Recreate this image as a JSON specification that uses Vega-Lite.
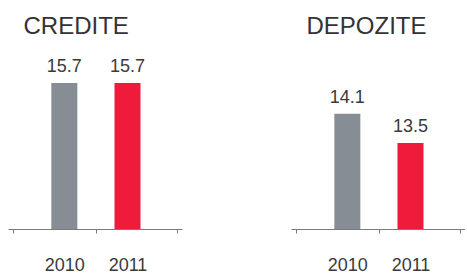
{
  "$schema": "https://vega.github.io/schema/vega-lite/v6.json",
  "autosize": {"type": "pad"},
  "padding": {"left": 8, "top": 15, "right": 0, "bottom": 0},
  "background": "white",
  "data": {
    "values": [
      {"panel": "CREDITE", "year": 2010, "value": 15.7},
      {"panel": "CREDITE", "year": 2011, "value": 15.7},
      {"panel": "DEPOZITE", "year": 2010, "value": 14.1},
      {"panel": "DEPOZITE", "year": 2011, "value": 13.5}
    ]
  },
  "spacing": 109,
  "config": {
    "view": {"stroke": null},
    "font": "Liberation Sans",
    "axis": {
      "title": null,
      "grid": false,
      "domainColor": "#7a7a7a",
      "tickColor": "#7a7a7a",
      "tickSize": 4,
      "labelFontSize": 18,
      "labelColor": "#3a3a3a",
      "labelPadding": 23,
      "labelOverlap": false,
      "labelFlush": false,
      "labelBound": false
    },
    "title": {"fontSize": 24, "fontWeight": "normal", "color": "#333333", "anchor": "start", "dx": 15.5, "offset": 11, "baseline": "alphabetic"}
  },
  "hconcat": [
    {
      "width": 174,
      "height": 179,
      "title": {"text": "CREDITE"},
      "transform": [{"filter": "datum.panel === 'CREDITE'"}],
      "encoding": {
        "x": {
          "field": "year", "type": "quantitative",
          "scale": {"domain": [2009.187, 2011.784], "nice": false, "zero": false},
          "axis": {
            "values": [2009.187, 2010, 2010.5, 2011, 2011.784],
            "labelExpr": "(datum.value == 2010 || datum.value == 2011) ? format(datum.value, 'd') : ''",
            "tickOpacity": {"condition": {"test": "datum.value == 2010 || datum.value == 2011", "value": 0}, "value": 1}
          }
        },
        "y": {"field": "value", "type": "quantitative", "scale": {"domain": [0, 19.25], "nice": false, "clamp": true}, "axis": null}
      },
      "layer": [
        {
          "mark": {"type": "bar", "width": 26},
          "encoding": {
            "color": {"field": "year", "type": "nominal", "scale": {"domain": [2010, 2011], "range": ["#878d94", "#ee1b3b"]}, "legend": null}
          }
        },
        {
          "mark": {"type": "text", "dy": -11, "fontSize": 18, "color": "#3a3a3a", "baseline": "alphabetic", "align": "center"},
          "encoding": {"text": {"field": "value", "type": "quantitative", "format": ".1f"}}
        }
      ]
    },
    {
      "width": 174,
      "height": 179,
      "title": {"text": "DEPOZITE"},
      "transform": [{"filter": "datum.panel === 'DEPOZITE'"}],
      "encoding": {
        "x": {
          "field": "year", "type": "quantitative",
          "scale": {"domain": [2009.187, 2011.784], "nice": false, "zero": false},
          "axis": {
            "values": [2009.187, 2010, 2010.5, 2011, 2011.784],
            "labelExpr": "(datum.value == 2010 || datum.value == 2011) ? format(datum.value, 'd') : ''",
            "tickOpacity": {"condition": {"test": "datum.value == 2010 || datum.value == 2011", "value": 0}, "value": 1}
          }
        },
        "y": {"field": "value", "type": "quantitative", "scale": {"domain": [11.72, 15.42], "nice": false, "zero": false, "clamp": true}, "axis": null}
      },
      "layer": [
        {
          "mark": {"type": "bar", "width": 26},
          "encoding": {
            "color": {"field": "year", "type": "nominal", "scale": {"domain": [2010, 2011], "range": ["#878d94", "#ee1b3b"]}, "legend": null}
          }
        },
        {
          "mark": {"type": "text", "dy": -11, "fontSize": 18, "color": "#3a3a3a", "baseline": "alphabetic", "align": "center"},
          "encoding": {"text": {"field": "value", "type": "quantitative", "format": ".1f"}}
        }
      ]
    }
  ]
}
